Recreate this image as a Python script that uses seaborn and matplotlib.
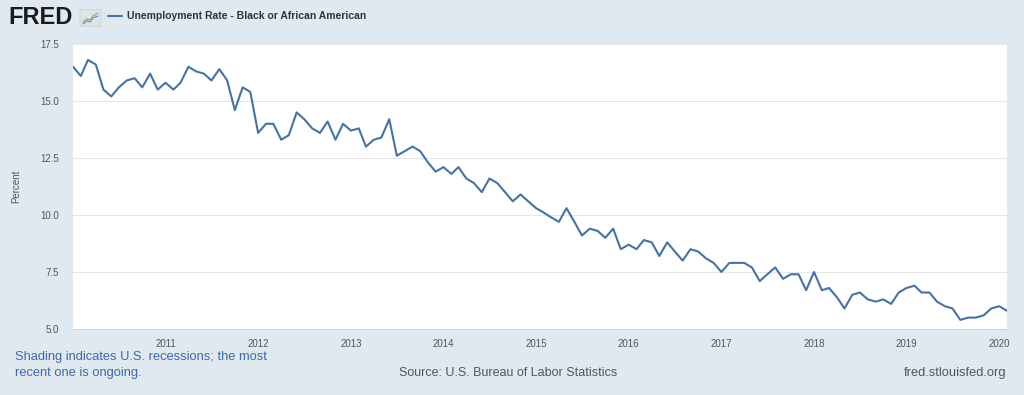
import pandas as pd
import seaborn as sns
import matplotlib.pyplot as plt
from matplotlib.patches import FancyBboxPatch

# Unemployment Rate - Black or African American, monthly, Jan 2010 - Feb 2020 (percent)
rate_2010 = [16.5, 16.1, 16.8, 16.6, 15.5, 15.2, 15.6, 15.9, 16.0, 15.6, 16.2, 15.5]
rate_2011 = [15.8, 15.5, 15.8, 16.5, 16.3, 16.2, 15.9, 16.4, 15.9, 14.6, 15.6, 15.4]
rate_2012 = [13.6, 14.0, 14.0, 13.3, 13.5, 14.5, 14.2, 13.8, 13.6, 14.1, 13.3, 14.0]
rate_2013 = [13.7, 13.8, 13.0, 13.3, 13.4, 14.2, 12.6, 12.8, 13.0, 12.8, 12.3, 11.9]
rate_2014 = [12.1, 11.8, 12.1, 11.6, 11.4, 11.0, 11.6, 11.4, 11.0, 10.6, 10.9, 10.6]
rate_2015 = [10.3, 10.1, 9.9, 9.7, 10.3, 9.7, 9.1, 9.4, 9.3, 9.0, 9.4, 8.5]
rate_2016 = [8.7, 8.5, 8.9, 8.8, 8.2, 8.8, 8.4, 8.0, 8.5, 8.4, 8.1, 7.9]
rate_2017 = [7.5, 7.9, 7.9, 7.9, 7.7, 7.1, 7.4, 7.7, 7.2, 7.4, 7.4, 6.7]
rate_2018 = [7.5, 6.7, 6.8, 6.4, 5.9, 6.5, 6.6, 6.3, 6.2, 6.3, 6.1, 6.6]
rate_2019 = [6.8, 6.9, 6.6, 6.6, 6.2, 6.0, 5.9, 5.4, 5.5, 5.5, 5.6, 5.9]
rate_2020 = [6.0, 5.8]

year_ticks = list(range(2011, 2021))
y_ticks = [5.0, 7.5, 10.0, 12.5, 15.0, 17.5]

series_name = 'Unemployment Rate - Black or African American'
note_text = 'Shading indicates U.S. recessions; the most\nrecent one is ongoing.'
source_text = 'Source: U.S. Bureau of Labor Statistics'
site_text = 'fred.stlouisfed.org'

BG = '#e1e9f0'
LINE = '#4572a7'

rates = (rate_2010 + rate_2011 + rate_2012 + rate_2013 + rate_2014 + rate_2015
         + rate_2016 + rate_2017 + rate_2018 + rate_2019 + rate_2020)
df = pd.DataFrame({
    'date': pd.date_range('2010-01-01', periods=len(rates), freq='MS'),
    'rate': rates,
})

sns.set_style('white')
plt.rcParams['font.family'] = ['Liberation Sans', 'DejaVu Sans']

fig = plt.figure(figsize=(10.24, 3.95), dpi=100, facecolor=BG)
ax = fig.add_axes([73 / 1024, 1 - 329 / 395, 934 / 1024, 285 / 395])
ax.set_facecolor('white')

sns.lineplot(data=df, x='date', y='rate', color=LINE, linewidth=1.5, ax=ax)

# оси
ax.set_xlim(df['date'].iloc[0], df['date'].iloc[-1])
ax.set_ylim(y_ticks[0], y_ticks[-1])
ax.set_xticks(pd.to_datetime([f'{y}-01-01' for y in year_ticks]))
ax.set_xticklabels([str(y) for y in year_ticks])
ax.set_yticks(y_ticks)
ax.set_yticklabels([f'{v:.1f}' for v in y_ticks])
ax.yaxis.grid(True, color='#e6e6e6', linewidth=0.75)
ax.set_axisbelow(True)
for side in ['top', 'left', 'right']:
    ax.spines[side].set_visible(False)
ax.spines['bottom'].set_color('#ccd6eb')
ax.spines['bottom'].set_linewidth(0.75)
ax.tick_params(axis='x', length=6, width=0.75, color='#ccd6eb', pad=1.5,
               labelsize=7, labelcolor='#555555')
ax.tick_params(axis='y', length=0, pad=10, labelsize=7, labelcolor='#555555')
ax.set_xlabel('')
ax.set_ylabel('Percent', fontsize=7, color='#555555', labelpad=14)

# шапка: логотип FRED с маленькой иконкой, затем легенда
fig.text(8 / 1024, 1 - 18 / 395, 'FRED', fontsize=17, fontweight='heavy',
         color='#1a1a1a', va='center', ha='left')
icon = FancyBboxPatch((81 / 1024, 1 - 26 / 395), 19 / 1024, 16 / 395,
                      boxstyle='round,pad=0.001', transform=fig.transFigure,
                      facecolor='#dde3e7', edgecolor='#c8d0d6', linewidth=0.5)
fig.patches.append(icon)
ix = [83, 87, 90, 93, 98]
for iy, col in [([22, 19, 20, 16, 13], '#7fb24a'), ([24, 21, 22, 18, 16], '#5b8fc7')]:
    fig.lines.append(plt.Line2D([v / 1024 for v in ix], [1 - v / 395 for v in iy],
                                transform=fig.transFigure, color=col, linewidth=0.8))
fig.lines.append(plt.Line2D([108 / 1024, 122 / 1024], [1 - 16 / 395, 1 - 16 / 395],
                            transform=fig.transFigure, color=LINE, linewidth=1.5))
fig.text(127 / 1024, 1 - 16 / 395, series_name, fontsize=7.5, fontweight='bold',
         color='#333333', va='center', ha='left')

# подвал
fig.text(15 / 1024, 1 - 365 / 395, note_text, fontsize=9.3, color='#3b6aa8',
         va='center', ha='left', linespacing=1.35)
fig.text(508 / 1024, 1 - 373 / 395, source_text, fontsize=9, color='#555555',
         va='center', ha='center')
fig.text(1006 / 1024, 1 - 373 / 395, site_text, fontsize=9.3, color='#555555',
         va='center', ha='right')

fig.savefig('out.png', dpi=100, facecolor=BG)
